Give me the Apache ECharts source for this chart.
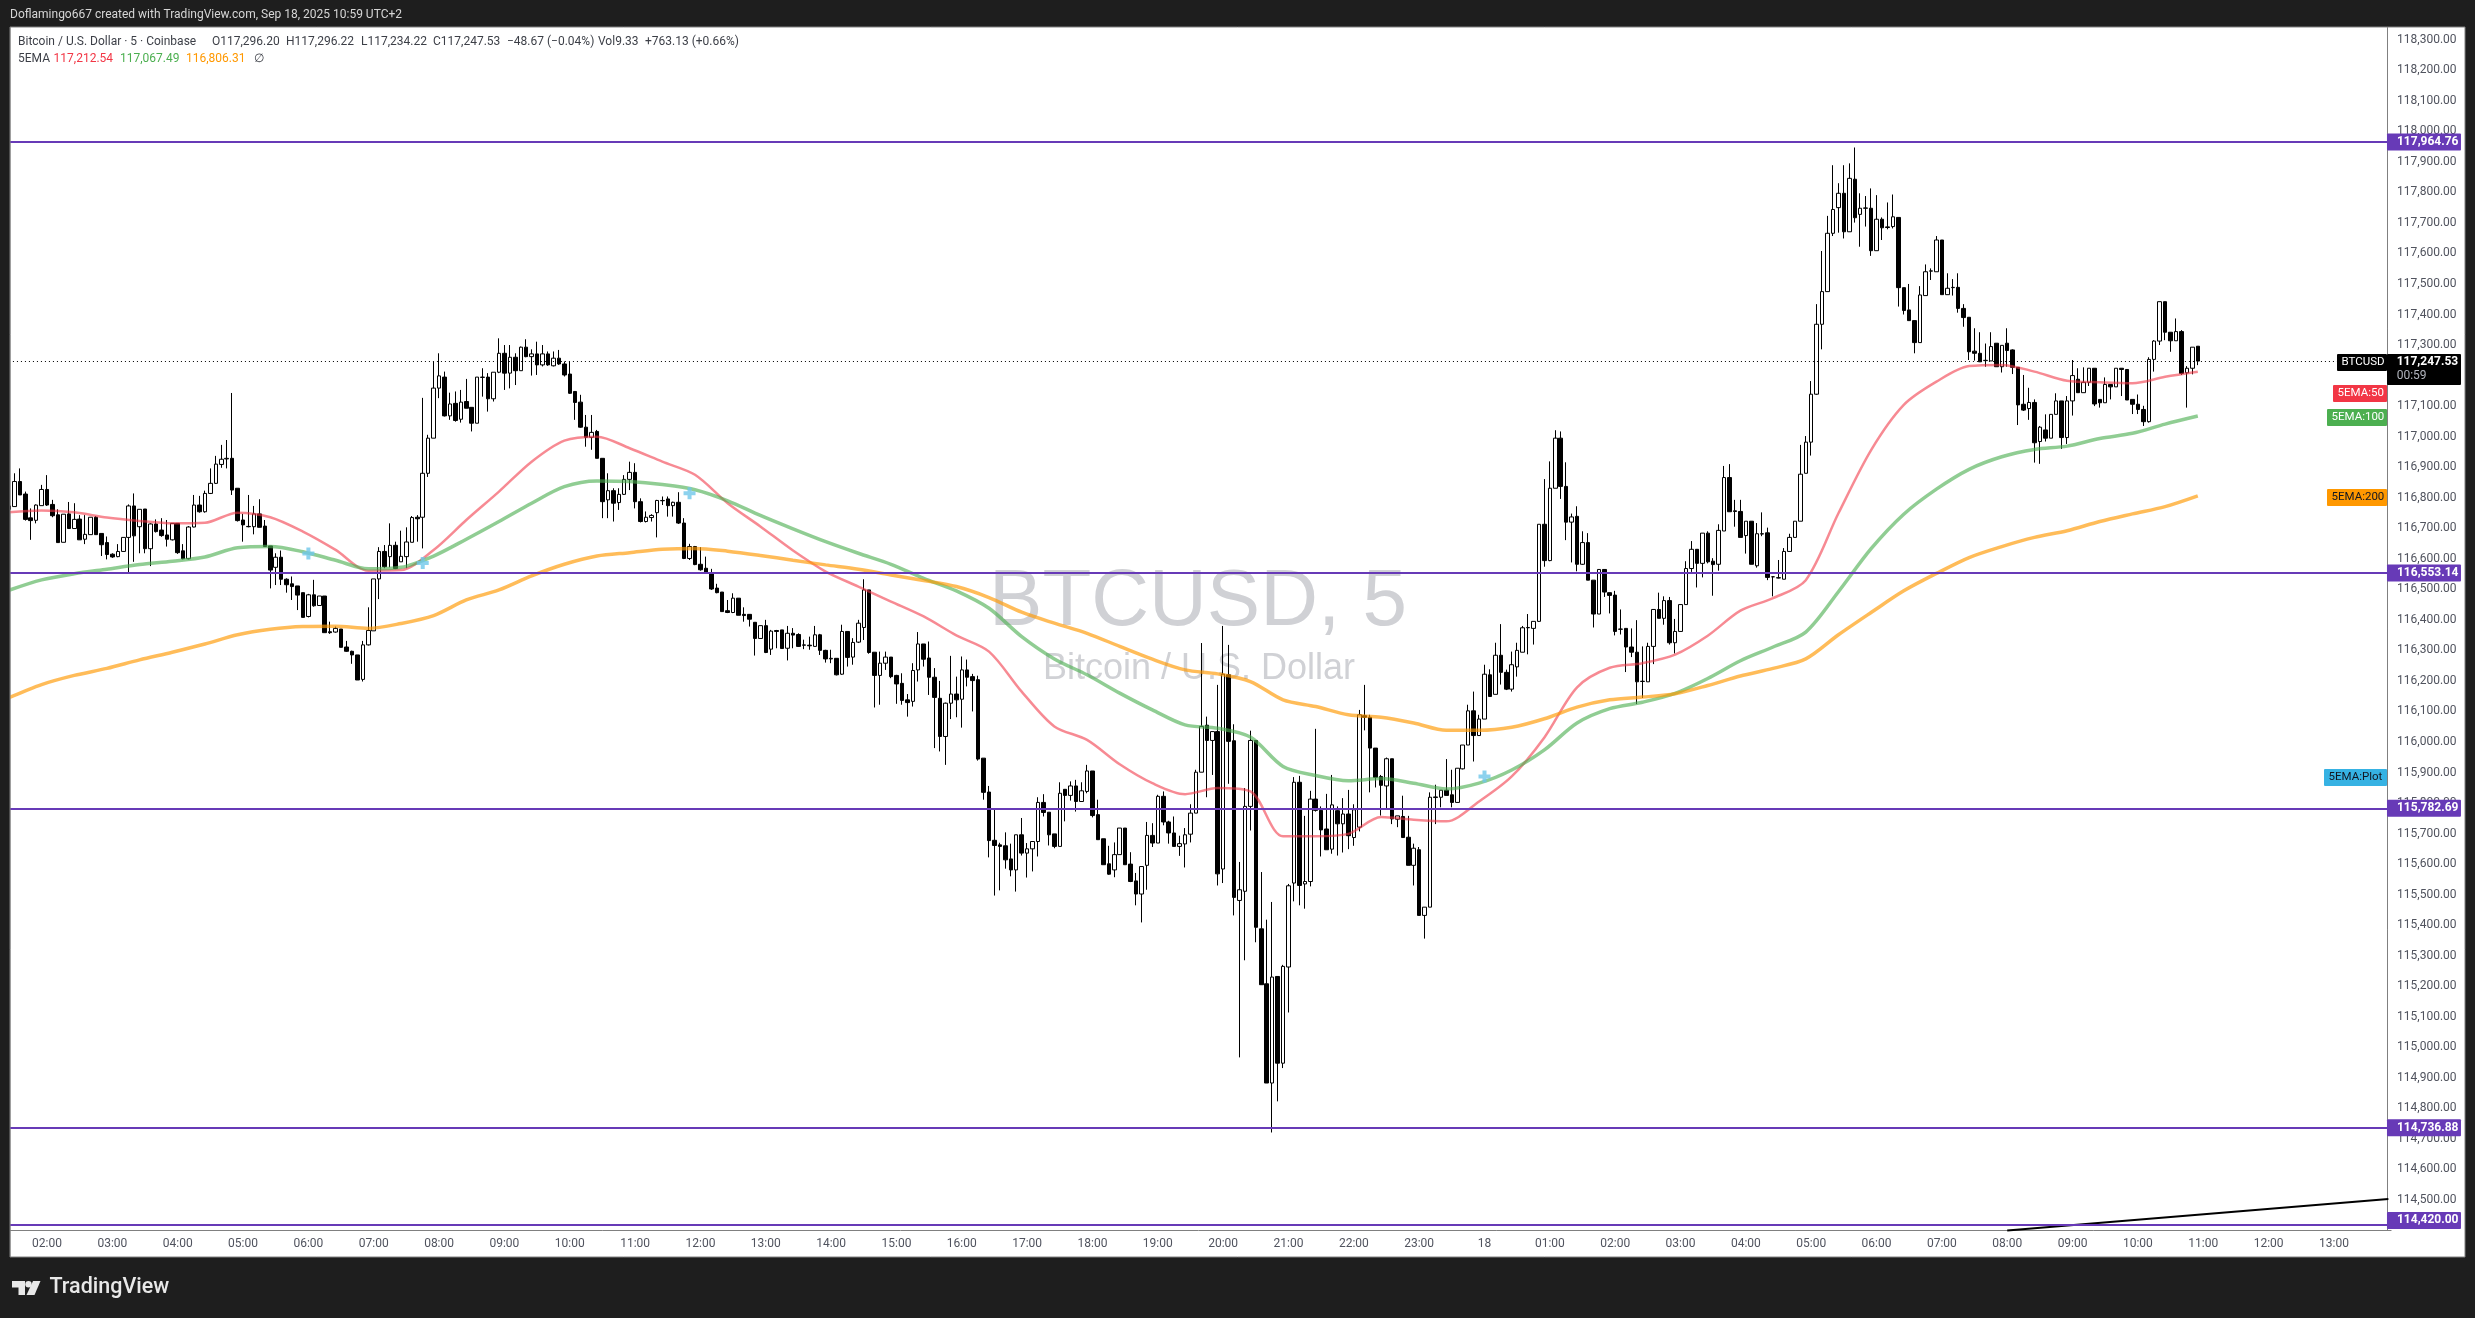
<!DOCTYPE html>
<html>
<head>
<meta charset="utf-8">
<title>BTCUSD 5</title>
<script src="https://cdn.jsdelivr.net/npm/echarts@6/dist/echarts.min.js"></script>
<style>
  html, body { margin: 0; padding: 0; background: #1e1e1e; }
  #main { width: 2475px; height: 1318px; }
</style>
</head>
<body>
<div id="main"></div>
<script>
// 5 minute candles, one row = one hour
var opens = [
  116773,116771,116853,116812,116734,116726,116774,116827,116778,116744,116654,116747,
  116699,116730,116664,116679,116736,116683,116653,116615,116607,116624,116670,116773,
  116705,116763,116633,116714,116694,116678,116662,116716,116626,116600,116704,116776,
  116754,116814,116847,116909,116927,116929,116831,116727,116706,116705,116747,116707,
  116642,116572,116605,116533,116518,116511,116489,116411,116482,116447,116478,116361,
  116360,116370,116311,116297,116285,116205,116318,116364,116534,116624,116607,116644,
  116590,116607,116654,116736,116736,116880,116995,117159,117195,117068,117109,117057,
  117115,117096,117044,117194,117195,117124,117211,117273,117208,117260,117216,117293,
  117262,117271,117235,117271,117232,117257,117238,117205,117148,117113,117031,116998,
  117017,116929,116793,116823,116784,116811,116860,116883,116787,116722,116735,116751,
  116790,116796,116774,116785,116717,116601,116640,116582,116569,116551,116504,116491,
  116430,116424,116471,116418,116418,116392,116339,116381,116304,116365,116367,116307,
  116356,116352,116318,116317,116313,116351,116300,116272,116274,116222,116362,116278,
  116327,116375,116498,116294,116218,116258,116278,116218,116192,116138,116133,116236,
  116321,116275,116212,116143,116018,116127,116157,116140,116236,116214,116204,115947,
  115836,115678,115663,115660,115617,115581,115696,115636,115650,115674,115802,115770,
  115699,115658,115845,115825,115856,115805,115838,115905,115762,115683,115601,115581,
  115631,115718,115600,115545,115502,115596,115694,115669,115822,115738,115702,115658,
  115666,115698,115767,115901,116055,116005,116034,115584,116220,116004,115481,115511,
  115789,116005,115388,115208,114883,115232,114948,115263,115538,115868,115535,115543,
  115813,115776,115715,115649,115775,115732,115764,115687,115721,116086,116081,115980,
  115887,115856,115945,115747,115756,115688,115596,115647,115432,115459,115818,115819,
  115842,115827,115802,115912,115990,116102,116021,116075,116220,116156,116284,116228,
  116173,116246,116294,116374,116372,116395,116713,116594,116831,116995,116837,116720,
  116739,116582,116653,116530,116419,116565,116489,116481,116369,116372,116311,116294,
  116198,116197,116313,116434,116405,116463,116325,116362,116450,116568,116631,116585,
  116684,116592,116582,116691,116866,116757,116755,116676,116723,116577,116682,116685,
  116541,116538,116533,116624,116670,116723,116880,116982,117139,117368,117475,117666,
  117750,117797,117671,117843,117728,117748,117748,117609,117712,117687,117688,117718,
  117488,117415,117380,117308,117462,117542,117540,117644,117465,117488,117489,117420,
  117391,117280,117273,117249,117248,117306,117229,117306,117284,117227,117106,117092,
  117112,116984,117022,116995,117073,117117,116997,117117,117188,117144,117178,117224,
  117122,117111,117171,117163,117224,117220,117122,117106,117089,117049,117253,117313,
  117442,117342,117314,117344,117209,117224,117296.2
];
var highs = [
  116782,116880,116896,116820,116765,116778,116842,116874,116793,116762,116746,116786,
  116782,116743,116743,116736,116740,116683,116673,116618,116648,116670,116778,116814,
  116762,116763,116716,116729,116733,116727,116716,116716,116648,116707,116809,116806,
  116823,116896,116937,116973,116989,117143,116831,116747,116809,116773,116795,116727,
  116642,116618,116627,116536,116542,116511,116489,116485,116531,116478,116478,116394,
  116378,116370,116331,116299,116285,116331,116441,116534,116638,116645,116716,116656,
  116692,116703,116740,116743,117127,117006,117246,117273,117213,117144,117148,117153,
  117189,117096,117195,117224,117208,117211,117322,117300,117300,117273,117295,117319,
  117286,117311,117300,117279,117279,117284,117246,117246,117148,117137,117071,117071,
  117022,116929,116880,116831,116831,116874,116918,116913,116798,116755,116746,116793,
  116804,116804,116787,116818,116733,116649,116642,116638,116607,116567,116518,116491,
  116465,116487,116471,116441,116418,116392,116381,116400,116367,116367,116367,116380,
  116373,116356,116335,116345,116380,116354,116302,116302,116274,116384,116362,116340,
  116400,116533,116498,116294,116296,116296,116278,116220,116225,116157,116258,116360,
  116321,116329,116242,116200,116129,116282,116214,116280,116270,116223,116217,115947,
  115856,115778,115670,115704,115667,115696,115751,115669,115674,115819,115829,115770,
  115699,115868,115845,115871,115876,115868,115925,115905,115811,115683,115660,115671,
  115718,115718,115639,115571,115592,115738,115734,115827,115838,115742,115756,115693,
  115718,115796,115909,116324,116083,116034,116187,116380,116318,116058,115607,115849,
  116037,116005,115574,115418,115476,115232,115270,115535,115885,115889,115758,115840,
  116043,115789,115830,115892,115789,115816,115843,115796,116105,116187,116089,115980,
  115892,115949,115945,115758,115824,115758,115667,115656,115459,115835,115860,115842,
  115944,115909,115914,115990,116122,116165,116089,116253,116238,116325,116386,116237,
  116296,116325,116380,116419,116395,116713,116861,116919,117021,117017,116916,116748,
  116772,116690,116684,116530,116565,116565,116489,116495,116434,116372,116372,116399,
  116313,116325,116434,116489,116477,116475,116403,116450,116592,116658,116631,116684,
  116690,116602,116713,116904,116910,116793,116793,116723,116723,116717,116752,116702,
  116541,116596,116635,116682,116723,116973,117002,117182,117434,117608,117723,117889,
  117830,117889,117895,117947,117797,117788,117813,117791,117718,117767,117793,117718,
  117488,117500,117380,117493,117564,117551,117657,117644,117535,117516,117535,117434,
  117391,117355,117342,117305,117342,117306,117299,117355,117286,117227,117202,117160,
  117122,117035,117073,117073,117142,117117,117133,117251,117224,117227,117224,117224,
  117122,117194,117171,117224,117224,117220,117122,117138,117101,117260,117316,117442,
  117442,117342,117387,117349,117231,117293,117296.22
];
var lows = [
  116754,116771,116809,116725,116662,116716,116774,116773,116736,116653,116654,116699,
  116699,116662,116648,116679,116679,116609,116598,116603,116605,116623,116553,116590,
  116618,116618,116576,116686,116672,116640,116660,116616,116598,116598,116703,116751,
  116751,116812,116845,116898,116896,116809,116722,116656,116703,116680,116703,116640,
  116503,116514,116514,116489,116465,116432,116408,116408,116443,116447,116358,116354,
  116358,116310,116295,116256,116203,116198,116316,116364,116468,116569,116572,116566,
  116590,116569,116654,116656,116634,116868,116995,117126,117066,117055,117049,117046,
  117093,117017,117044,117131,117082,117115,117208,117153,117158,117169,117216,117260,
  117200,117202,117230,117232,117230,117235,117197,117140,117055,117029,116967,116957,
  116929,116733,116733,116722,116760,116809,116825,116765,116719,116719,116722,116670,
  116776,116738,116738,116714,116599,116596,116579,116561,116551,116498,116487,116427,
  116422,116422,116415,116394,116378,116283,116339,116291,116285,116307,116306,116267,
  116307,116311,116304,116302,116313,116285,116260,116258,116218,116220,116247,116253,
  116324,116334,116289,116113,116122,116236,116209,116125,116122,116083,116116,116198,
  116247,116154,115980,115969,115925,116075,116081,116047,116182,116100,115939,115811,
  115622,115497,115514,115585,115560,115510,115628,115556,115576,115625,115756,115661,
  115652,115658,115740,115808,115772,115805,115832,115753,115680,115598,115565,115557,
  115631,115598,115541,115465,115409,115516,115656,115669,115727,115667,115658,115627,
  115589,115671,115767,115901,115819,115892,115530,115538,115863,115432,114967,115285,
  115710,115344,115205,114883,114721,114823,114932,115114,115478,115465,115454,115527,
  115772,115625,115647,115634,115628,115638,115649,115660,115707,116038,115835,115851,
  115759,115781,115731,115721,115687,115596,115530,115432,115356,115459,115731,115786,
  115825,115786,115802,115910,115990,115936,116021,116075,116149,116156,116188,116170,
  116165,116214,116294,116287,116319,116393,116574,116592,116831,116796,116661,116588,
  116559,116580,116530,116375,116419,116475,116421,116349,116352,116229,116278,116124,
  116144,116197,116255,116405,116384,116319,116290,116362,116450,116557,116506,116539,
  116585,116479,116561,116691,116754,116705,116670,116617,116582,116571,116674,116530,
  116477,116536,116533,116624,116670,116723,116880,116938,117137,117286,117475,117657,
  117668,117649,117671,117701,117622,117688,117592,117609,117644,117679,117682,117426,
  117400,117380,117273,117308,117462,117513,117540,117465,117465,117462,117406,117360,
  117251,117249,117245,117229,117248,117229,117210,117229,117205,117038,117084,117055,
  116915,116911,116984,116995,117073,116960,116976,117069,117144,117144,117166,117100,
  117095,117111,117122,117163,117133,117120,117074,117074,117035,117046,117213,117300,
  117316,117278,117314,117202,117095,117204,117234.22
];
var closes = [
  116762,116853,116809,116729,116725,116776,116827,116776,116741,116653,116746,116699,
  116729,116662,116680,116736,116679,116646,116614,116606,116624,116670,116773,116675,
  116762,116633,116714,116689,116676,116664,116716,116620,116600,116704,116776,116754,
  116814,116847,116910,116926,116929,116825,116725,116711,116705,116747,116703,116640,
  116563,116605,116533,116515,116509,116481,116408,116482,116446,116478,116358,116358,
  116372,116310,116297,116285,116203,116318,116365,116534,116624,116574,116644,116568,
  116608,116655,116735,116731,116880,116995,117159,117199,117068,117107,117053,117113,
  117093,117044,117195,117195,117124,117211,117273,117208,117260,117216,117293,117262,
  117271,117235,117271,117235,117257,117238,117202,117142,117112,117031,116998,117014,
  116929,116787,116823,116782,116811,116860,116883,116787,116722,116736,116742,116791,
  116791,116774,116785,116717,116601,116640,116581,116564,116553,116501,116489,116427,
  116424,116471,116415,116414,116402,116339,116381,116293,116363,116362,116306,116356,
  116350,116313,116317,116315,116351,116300,116272,116274,116220,116362,116277,116326,
  116389,116498,116293,116218,116258,116278,116214,116190,116136,116129,116234,116321,
  116271,116212,116146,116018,116127,116157,116138,116236,116212,116201,115944,115835,
  115677,115661,115658,115614,115581,115696,115636,115650,115674,115802,115769,115696,
  115658,115832,115825,115856,115805,115840,115905,115759,115680,115598,115567,115631,
  115718,115598,115543,115502,115592,115694,115669,115822,115738,115702,115658,115667,
  115696,115767,115901,116051,116005,116034,115568,116222,116002,115491,115516,115789,
  116005,115393,115205,114883,115230,114948,115265,115529,115868,115530,115543,115813,
  115776,115712,115647,115794,115732,115764,115693,115778,116089,116081,115980,115884,
  115858,115945,115748,115758,115687,115596,115652,115432,115459,115819,115820,115842,
  115825,115802,115914,115990,116102,116021,116075,116222,116149,116284,116228,116173,
  116253,116300,116374,116375,116395,116713,116594,116831,116995,116837,116720,116737,
  116582,116653,116530,116419,116565,116491,116480,116362,116370,116311,116294,116197,
  116199,116313,116434,116405,116463,116325,116362,116450,116568,116631,116585,116684,
  116590,116581,116693,116866,116754,116755,116670,116723,116582,116682,116681,116539,
  116541,116537,116624,116670,116723,116877,116982,117139,117368,117475,117666,117744,
  117797,117671,117846,117717,117748,117749,117609,117712,117684,117685,117720,117488,
  117413,117380,117308,117464,117540,117543,117644,117465,117486,117489,117420,117390,
  117278,117273,117245,117250,117295,117229,117299,117282,117227,117104,117087,117112,
  116980,117031,116995,117073,117117,116997,117117,117200,117144,117178,117224,117107,
  117111,117171,117163,117224,117220,117120,117106,117089,117049,117253,117313,117442,
  117342,117314,117344,117207,117224,117293,117247.53
];

// ema readings, one value every half hour (every 6th candle)
var ema50 = [
  116752,116758,116752,116735,116724,116716,116718,116751,116736,116689,116629,116561,
  116563,116629,116727,116820,116918,116987,117000,116962,116918,116875,116782,116706,
  116627,116558,116509,116460,116411,116349,116296,116165,116051,116007,115927,115865,
  115829,115849,115838,115691,115691,115699,115754,115745,115740,115805,115887,116015,
  116179,116243,116258,116286,116348,116430,116471,116530,116749,116956,117104,117180,
  117231,117235,117213,117183,117178,117175,117196,117212.54
];
var ema100 = [
  116497,116531,116551,116566,116581,116592,116606,116636,116640,116623,116595,116567,
  116572,116609,116664,116722,116782,116836,116855,116853,116843,116826,116790,116742,
  116698,116656,116618,116582,116536,116495,116438,116345,116272,116220,116160,116105,
  116056,116045,116016,115920,115890,115873,115880,115865,115846,115865,115908,115974,
  116062,116109,116130,116159,116208,116266,116311,116360,116492,116633,116746,116828,
  116893,116934,116958,116969,116994,117011,117041,117067.49
];
var ema200 = [
  116145,116188,116218,116241,116269,116294,116321,116351,116369,116378,116379,116372,
  116388,116414,116465,116498,116544,116582,116609,116620,116631,116634,116625,116611,
  116595,116580,116566,116547,116529,116509,116473,116425,116389,116356,116313,116271,
  116236,116223,116198,116138,116116,116089,116081,116062,116038,116038,116048,116076,
  116114,116138,116147,116158,116185,116216,116241,116272,116351,116424,116495,116552,
  116604,116640,116670,116692,116722,116747,116771,116806.31
];

// plus markers of the 5EMA script
var plotBars = [55, 76, 125, 271];
var plotValues = [116617, 116586, 116815, 115887];

// horizontal levels and tags
var levels = [117964.76, 116553.14, 115782.69, 114736.88, 114420.00];
var lastPrice = 117247.53;
var trendBars = [367, 437];
var trendPrices = [114400, 114503];

var headerItems = [
  ['Bitcoin / U.S. Dollar · 5 · Coinbase', 18, '#3c3f47'],
  ['O117,296.20', 212, '#3c3f47'],
  ['H117,296.22', 286, '#3c3f47'],
  ['L117,234.22', 361, '#3c3f47'],
  ['C117,247.53', 433, '#3c3f47'],
  ['−48.67 (−0.04%)', 507, '#3c3f47'],
  ['Vol9.33', 598, '#3c3f47'],
  ['+763.13 (+0.66%)', 645, '#3c3f47']
];
var legendItems = [
  ['5EMA', 18, '#3c3f47'],
  ['117,212.54', 53.6, '#f23645'],
  ['117,067.49', 120, '#4caf50'],
  ['116,806.31', 186, '#ff9800'],
  ['∅', 253.6, '#3c3f47']
];
// text, left, top, height, fill, text colour
var sideTags = [
  ['BTCUSD', 2337, 354, 17, '#000000', '#ffffff'],
  ['5EMA:50', 2333, 385, 17, '#f23645', '#ffffff'],
  ['5EMA:100', 2327, 409, 17, '#4caf50', '#ffffff'],
  ['5EMA:200', 2327, 489, 17, '#ff9800', '#131722'],
  ['5EMA:Plot', 2324, 769, 17, '#36b2e3', '#131722']
];

// categories run in 5 minute steps from 01:25
// hh:mm repeats on the second day, so marklines and markers use the index, not the name
var categories = [];
for (var i = 0; i < 438; i++) {
  var m = (85 + i * 5) % 1440;
  var hh = Math.floor(m / 60), mm = m % 60;
  categories.push((hh < 10 ? '0' : '') + hh + ':' + (mm < 10 ? '0' : '') + mm);
}

function everySixth(values) {
  var out = categories.map(function () { return null; });
  values.forEach(function (v, k) { out[k * 6] = v; });
  return out;
}

var candles = opens.map(function (o, i) { return [o, closes[i], lows[i], highs[i]]; });

var FONT = 'Roboto, "Noto Sans", sans-serif';

function formatPrice(v) {
  return v.toLocaleString('en-US', { minimumFractionDigits: 2, maximumFractionDigits: 2 });
}

function textEl(text, x, y, fill, opts) {
  opts = opts || {};
  return {
    type: 'text', z: opts.z === undefined ? 120 : opts.z, silent: true,
    style: {
      text: text, x: x, y: y, fill: fill,
      font: (opts.weight || 'normal') + ' ' + (opts.size || 12) + 'px ' + (opts.family || FONT),
      textAlign: opts.align || 'left', textVerticalAlign: 'middle'
    }
  };
}

var graphics = [
  // white chart panel and the dark strip on the left that hides the first half candle
  { type: 'rect', z: -10, silent: true, shape: { x: 10, y: 27, width: 2455, height: 1230 }, style: { fill: '#ffffff', stroke: '#808080', lineWidth: 1 } },
  { type: 'rect', z: 100, silent: true, shape: { x: 0, y: 0, width: 10, height: 1318 }, style: { fill: '#1e1e1e' } },
  { type: 'line', z: 101, silent: true, shape: { x1: 10, y1: 27, x2: 10, y2: 1257 }, style: { stroke: '#808080', lineWidth: 1 } },
  // watermark
  textEl('BTCUSD, 5', 1198, 603, '#d0d1d5', { size: 80, family: '"Liberation Sans", Arial, sans-serif', align: 'center', z: -5 }),
  textEl('Bitcoin / U.S. Dollar', 1199, 669, '#d0d1d5', { size: 36, family: '"Liberation Sans", Arial, sans-serif', align: 'center', z: -5 }),
  // header strip
  textEl('Doflamingo667 created with TradingView.com, Sep 18, 2025 10:59 UTC+2', 10, 14.7, '#d6d6d6'),
  // logo
  { type: 'polygon', z: 120, silent: true, shape: { points: [[12, 1281], [25, 1281], [25, 1295], [18.5, 1295], [18.5, 1287.5], [12, 1287.5]] }, style: { fill: '#e8e8e8' } },
  { type: 'circle', z: 120, silent: true, shape: { cx: 28.5, cy: 1284.2, r: 3.2 }, style: { fill: '#e8e8e8' } },
  { type: 'polygon', z: 120, silent: true, shape: { points: [[33, 1281], [40.5, 1281], [34.5, 1295], [26.5, 1295]] }, style: { fill: '#e8e8e8' } },
  textEl('TradingView', 49.5, 1288, '#e8e8e8', { size: 21.5, weight: '500' }),
  // price tag on the axis
  { type: 'rect', z: 110, silent: true, shape: { x: 2387, y: 354, width: 74, height: 31, r: 1 }, style: { fill: '#000000' } },
  textEl(formatPrice(lastPrice), 2396.7, 361.7, '#ffffff', { weight: 'bold' }),
  textEl('00:59', 2396.7, 375.7, '#b2b5be')
];
headerItems.forEach(function (t) { graphics.push(textEl(t[0], t[1], 41.7, t[2])); });
legendItems.forEach(function (t) { graphics.push(textEl(t[0], t[1], 59, t[2])); });
sideTags.forEach(function (t) {
  graphics.push({ type: 'rect', z: 110, silent: true, shape: { x: t[1], y: t[2], width: 2387 - t[1], height: t[3], r: 1 }, style: { fill: t[4] } });
  graphics.push(textEl(t[0], t[1] + 4.5, t[2] + t[3] / 2, t[5], { size: 11.5 }));
});

var levelLines = levels.map(function (v, i) {
  return [
    {
      xAxis: 0, yAxis: v,
      lineStyle: { color: '#673ab7', width: 2, type: 'solid' },
      label: {
        show: true, position: 'end', distance: -1.4, formatter: formatPrice(v),
        color: '#fff', backgroundColor: '#673ab7', fontFamily: FONT, fontSize: 12, fontWeight: 'bold',
        width: 64, height: 17, lineHeight: 17, padding: [0, 0, 0, 10], borderRadius: 1,
        offset: i === 4 ? [0, -4] : [0, 0]
      }
    },
    { xAxis: 437, yAxis: v }
  ];
});
var otherLines = [
  [
    { xAxis: 0, yAxis: lastPrice, lineStyle: { color: '#000', width: 1, type: [1, 3] }, label: { show: false } },
    { xAxis: 428, yAxis: lastPrice }
  ],
  [
    { xAxis: trendBars[0], yAxis: trendPrices[0], lineStyle: { color: '#000', width: 2, type: 'solid' }, label: { show: false } },
    { xAxis: trendBars[1], yAxis: trendPrices[1] }
  ]
];

var option = {
  animation: false,
  backgroundColor: '#1e1e1e',
  graphic: { elements: graphics },
  grid: { left: 6.2, top: 27.5, width: 2384.9, height: 1203 },
  xAxis: {
    type: 'category',
    data: categories,
    boundaryGap: true,
    axisLine: { onZero: false, lineStyle: { color: '#808080', width: 1 } },
    axisTick: { show: false },
    splitLine: { show: false },
    axisLabel: {
      color: '#50535e', fontFamily: FONT, fontSize: 12, margin: 7,
      interval: function (i, v) { return v.slice(3) === '00'; },
      formatter: function (v) { return v === '00:00' ? '18' : v; }
    }
  },
  yAxis: {
    type: 'value',
    position: 'right',
    offset: -4,
    min: 114400,
    max: 118340,
    interval: 100,
    scale: true,
    splitLine: { show: false },
    axisTick: { show: false },
    axisLine: { show: true, lineStyle: { color: '#808080', width: 1 } },
    axisLabel: {
      color: '#50535e', fontFamily: FONT, fontSize: 12, margin: 10,
      showMinLabel: false, showMaxLabel: false,
      formatter: function (v) { return formatPrice(v); }
    }
  },
  series: [
    {
      name: 'BTCUSD',
      type: 'candlestick',
      data: candles,
      barWidth: 4,
      z: 3,
      itemStyle: { color: '#ffffff', color0: '#000000', borderColor: '#000000', borderColor0: '#000000', borderWidth: 1 },
      markLine: {
        silent: true, symbol: 'none', animation: false, z: 6,
        data: otherLines.concat(levelLines)
      }
    },
    {
      name: 'EMA50', type: 'line', data: everySixth(ema50), connectNulls: true, showSymbol: false, symbol: 'none', smooth: 0.3, z: 4,
      lineStyle: { color: 'rgba(242,54,69,0.58)', width: 2.5 }
    },
    {
      name: 'EMA100', type: 'line', data: everySixth(ema100), connectNulls: true, showSymbol: false, symbol: 'none', smooth: 0.3, z: 4,
      lineStyle: { color: 'rgba(76,175,80,0.62)', width: 3.5 }
    },
    {
      name: 'EMA200', type: 'line', data: everySixth(ema200), connectNulls: true, showSymbol: false, symbol: 'none', smooth: 0.3, z: 4,
      lineStyle: { color: 'rgba(255,152,0,0.65)', width: 3.5 }
    },
    {
      name: 'Plot', type: 'scatter', z: 5,
      symbol: 'path://M4,0H8V4H12V8H8V12H4V8H0V4H4Z', symbolSize: 12,
      itemStyle: { color: '#6fc7ea' },
      data: plotBars.map(function (b, i) { return [b, plotValues[i]]; })
    }
  ]
};

var chart = echarts.init(document.getElementById('main'));
chart.setOption(option);
</script>
</body>
</html>
